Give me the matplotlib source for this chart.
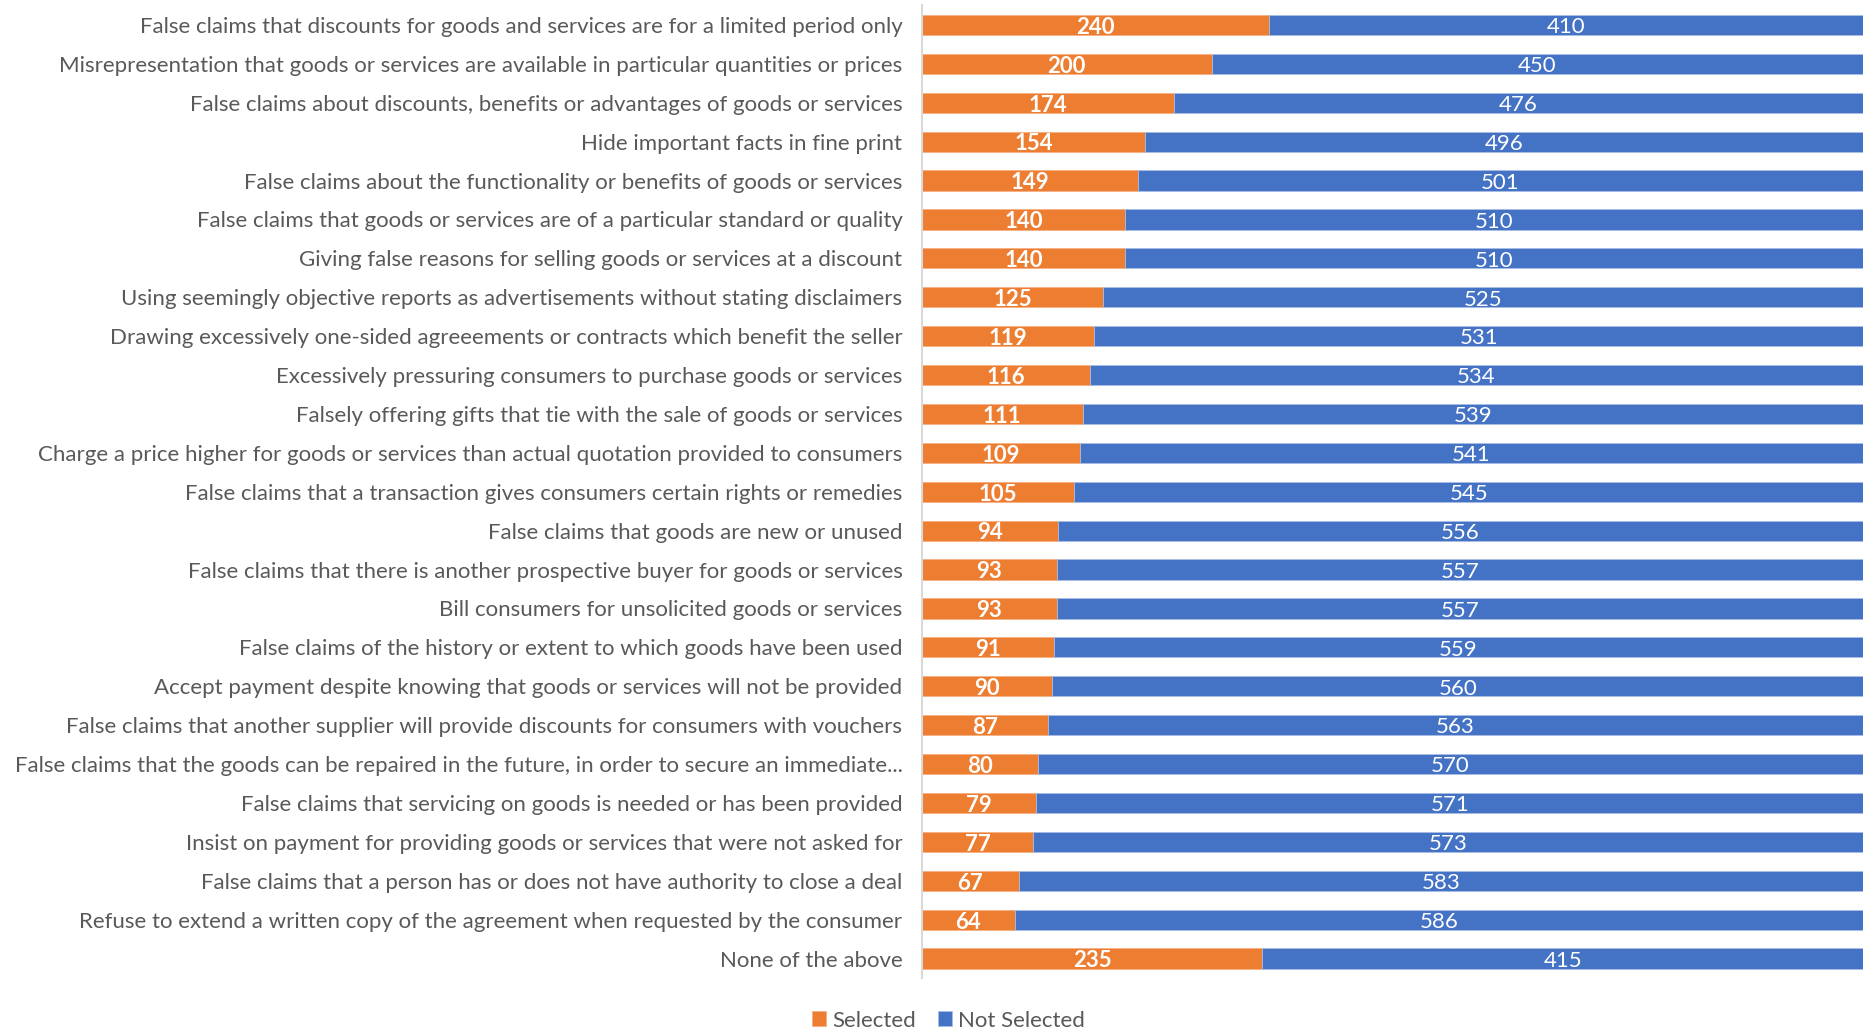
import matplotlib.pyplot as plt

categories = [
    "False claims that discounts for goods and services are for a limited period only",
    "Misrepresentation that goods or services are available in particular quantities or prices",
    "False claims about discounts, benefits or advantages of goods or services",
    "Hide important facts in fine print",
    "False claims about the functionality or benefits of goods or services",
    "False claims that goods or services are of a particular standard or quality",
    "Giving false reasons for selling goods or services at a discount",
    "Using seemingly objective reports as advertisements without stating disclaimers",
    "Drawing excessively one-sided agreeements or contracts which benefit the seller",
    "Excessively pressuring consumers to purchase goods or services",
    "Falsely offering gifts that tie with the sale of goods or services",
    "Charge a price higher for goods or services than actual quotation provided to consumers",
    "False claims that a transaction gives consumers certain rights or remedies",
    "False claims that goods are new or unused",
    "False claims that there is another prospective buyer for goods or services",
    "Bill consumers for unsolicited goods or services",
    "False claims of the history or extent to which goods have been used",
    "Accept payment despite knowing that goods or services will not be provided",
    "False claims that another supplier will provide discounts for consumers with vouchers",
    "False claims that the goods can be repaired in the future, in order to secure an immediate...",
    "False claims that servicing on goods is needed or has been provided",
    "Insist on payment for providing goods or services that were not asked for",
    "False claims that a person has or does not have authority to close a deal",
    "Refuse to extend a written copy of the agreement when requested by the consumer",
    "None of the above",
]
selected = [240, 200, 174, 154, 149, 140, 140, 125, 119, 116, 111, 109, 105,
            94, 93, 93, 91, 90, 87, 80, 79, 77, 67, 64, 235]
not_selected = [410, 450, 476, 496, 501, 510, 510, 525, 531, 534, 539, 541, 545,
                556, 557, 557, 559, 560, 563, 570, 571, 573, 583, 586, 415]

plt.rcParams['font.family'] = ['Lato', 'DejaVu Sans']
orange = '#ED7D31'
blue = '#4472C4'
grey = '#595959'

fig = plt.figure(figsize=(18.67, 10.32), dpi=100)
ax = fig.add_axes([0.4938, 0.0523, 0.5042, 0.9424])

y = list(range(len(categories)))
h = 0.52
b1 = ax.barh(y, selected, height=h, color=orange, edgecolor='#F4B183', linewidth=0.6, label='Selected')
b2 = ax.barh(y, not_selected, left=selected, height=h, color=blue, edgecolor='#A9BDE3', linewidth=0.6, label='Not Selected')

for i in y:
    ax.text(selected[i] / 2, i + 0.06, str(selected[i]), ha='center', va='center',
            color='white', fontsize=16, fontweight='bold')
    ax.text(selected[i] + not_selected[i] / 2, i + 0.06, str(not_selected[i]), ha='center', va='center',
            color='white', fontsize=16)

ax.set_ylim(len(categories) - 0.5, -0.5)
ax.set_xlim(0, 650)
ax.set_yticks(y)
ax.set_yticklabels(categories, fontsize=16, color=grey)
ax.tick_params(axis='y', length=0, pad=14)
ax.set_xticks([])
for s in ['top', 'right', 'bottom']:
    ax.spines[s].set_visible(False)
ax.spines['left'].set_color('#D9D9D9')
ax.spines['left'].set_linewidth(1.5)

fig.legend(handles=[b1, b2], loc='lower center', bbox_to_anchor=(0.508, -0.018), ncol=2,
           frameon=False, fontsize=16, labelcolor=grey, handlelength=0.65, handleheight=0.65,
           handletextpad=0.25, columnspacing=1.0)

fig.savefig('out.png', dpi=100)
